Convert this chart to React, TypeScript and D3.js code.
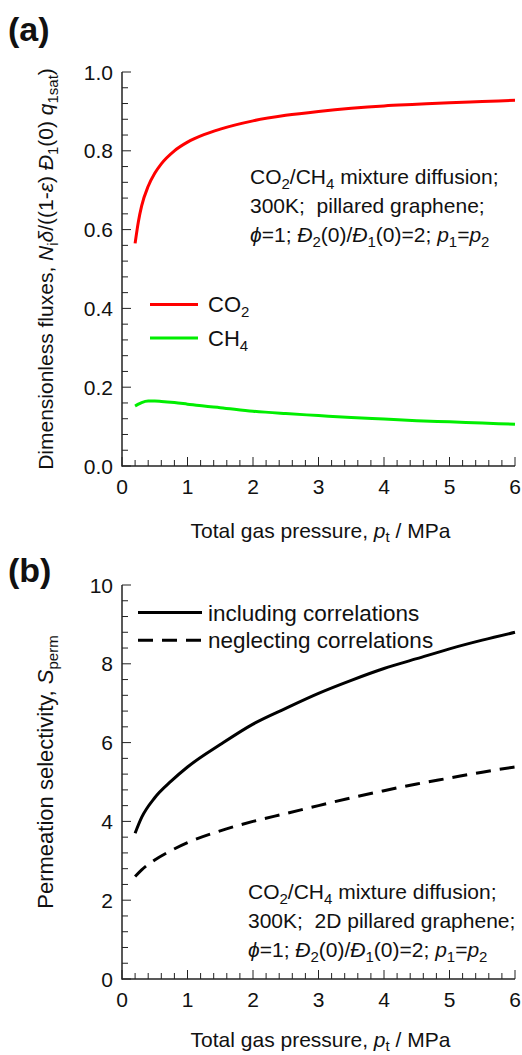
import React from "react";
import * as d3 from "d3";

// ---------- data ----------
const pressureA = [0.2, 0.25, 0.3, 0.4, 0.5, 0.6, 0.8, 1.0, 1.25, 1.5, 2.0, 2.5, 3.0, 3.5, 4.0, 4.5, 5.0, 5.5, 6.0];
const fluxCO2 = [0.565, 0.62, 0.66, 0.71, 0.743, 0.767, 0.8, 0.822, 0.841, 0.855, 0.876, 0.89, 0.9, 0.908, 0.914, 0.918, 0.922, 0.925, 0.928];
const fluxCH4 = [0.152, 0.157, 0.161, 0.165, 0.165, 0.164, 0.161, 0.157, 0.152, 0.148, 0.139, 0.133, 0.128, 0.123, 0.119, 0.115, 0.112, 0.109, 0.106];

const pressureB = [0.2, 0.3, 0.5, 0.75, 1.0, 1.5, 2.0, 2.5, 3.0, 3.5, 4.0, 4.5, 5.0, 5.5, 6.0];
const selIncl = [3.7, 4.1, 4.6, 5.02, 5.38, 5.95, 6.47, 6.87, 7.25, 7.58, 7.88, 8.13, 8.38, 8.6, 8.8];
const selNegl = [2.6, 2.77, 3.02, 3.26, 3.46, 3.76, 4.0, 4.2, 4.4, 4.6, 4.78, 4.95, 5.1, 5.25, 5.38];

const xTicks = [0, 1, 2, 3, 4, 5, 6];
const yTicksA = [0, 0.2, 0.4, 0.6, 0.8, 1.0];
const yTicksB = [0, 2, 4, 6, 8, 10];

const FONT = "'Liberation Sans', Arial, sans-serif";
const FS = 21;
const SUB = 15;

const W = 522, H = 1055;
const xLeft = 122, xRight = 515;

function Axes({ x, y, yTicks, yFmt, xMinor, yMinor }: any) {
  const [y0, y1] = y.range();
  const [x0, x1] = x.range();
  const axisColor = "#222";
  return (
    <g>
      <line x1={x0} x2={x0} y1={y0 + 0.75} y2={y1} stroke={axisColor} strokeWidth={1.5} />
      <line x1={x0} x2={x1} y1={y0} y2={y0} stroke={axisColor} strokeWidth={1.5} />
      {yMinor.map((v: number, i: number) => (
        <line key={"ym" + i} x1={x0} x2={x0 + 6} y1={y(v)} y2={y(v)} stroke={axisColor} strokeWidth={1} />
      ))}
      {yTicks.map((v: number, i: number) => (
        <g key={"y" + i}>
          <line x1={x0} x2={x0 + 9} y1={y(v)} y2={y(v)} stroke={axisColor} strokeWidth={1} />
          <text x={x0 - 9} y={y(v)} dy="0.36em" textAnchor="end" fontSize={FS} fontFamily={FONT} fill="#111">
            {yFmt(v)}
          </text>
        </g>
      ))}
      {xMinor.map((v: number, i: number) => (
        <line key={"xm" + i} x1={x(v)} x2={x(v)} y1={y0} y2={y0 - 6} stroke={axisColor} strokeWidth={1} />
      ))}
      {xTicks.map((v, i) => (
        <g key={"x" + i}>
          <line x1={x(v)} x2={x(v)} y1={y0} y2={y0 - 9} stroke={axisColor} strokeWidth={1} />
          <text x={x(v)} y={y0 + 28} textAnchor="middle" fontSize={FS} fontFamily={FONT} fill="#111">
            {v}
          </text>
        </g>
      ))}
    </g>
  );
}

function XTitle({ x, yPos }: any) {
  return (
    <text x={x} y={yPos} textAnchor="middle" fontSize={FS} fontFamily={FONT} fill="#111">
      Total gas pressure, <tspan fontStyle="italic">p</tspan>
      <tspan fontSize={SUB} dy={4}>t</tspan>
      <tspan dy={-4}> / MPa</tspan>
    </text>
  );
}

function Annotation({ x, y, twoD }: any) {
  const gap = 29;
  return (
    <g fontFamily={FONT} fontSize={FS} fill="#111">
      <text x={x} y={y}>
        CO<tspan fontSize={SUB} dy={5}>2</tspan>
        <tspan dy={-5}>/CH</tspan>
        <tspan fontSize={SUB} dy={5}>4</tspan>
        <tspan dy={-5}> mixture diffusion;</tspan>
      </text>
      <text x={x} y={y + gap}>
        {twoD ? "300K;\u00a0 2D pillared graphene;" : "300K;\u00a0 pillared graphene;"}
      </text>
      <text x={x} y={y + 2 * gap}>
        <tspan fontStyle="italic">ϕ</tspan>=1; <tspan fontStyle="italic">Đ</tspan>
        <tspan fontSize={SUB} dy={5}>2</tspan>
        <tspan dy={-5}>(0)/</tspan>
        <tspan fontStyle="italic">Đ</tspan>
        <tspan fontSize={SUB} dy={5}>1</tspan>
        <tspan dy={-5}>(0)=2; </tspan>
        <tspan fontStyle="italic">p</tspan>
        <tspan fontSize={SUB} dy={5}>1</tspan>
        <tspan dy={-5}>=</tspan>
        <tspan fontStyle="italic">p</tspan>
        <tspan fontSize={SUB} dy={5}>2</tspan>
      </text>
    </g>
  );
}

export default function App() {
  // panel a
  const xA = d3.scaleLinear().domain([0, 6]).range([xLeft, xRight]);
  const yA = d3.scaleLinear().domain([0, 1]).range([466, 72]);
  // panel b
  const xB = d3.scaleLinear().domain([0, 6]).range([xLeft, xRight]);
  const yB = d3.scaleLinear().domain([0, 10]).range([979, 585]);

  const xMinor = d3.range(0, 31).map((i) => i * 0.2).filter((v) => Math.abs(v - Math.round(v)) > 1e-6);
  const yMinorA = d3.range(0, 26).map((i) => i * 0.04).filter((v) => Math.abs(v * 5 - Math.round(v * 5)) > 1e-6);
  const yMinorB = d3.range(0, 26).map((i) => i * 0.4).filter((v) => Math.abs(v / 2 - Math.round(v / 2)) > 1e-6);

  const lineA = (ys: number[]) =>
    d3.line<number>().x((_, i) => xA(pressureA[i])).y((d) => yA(d)).curve(d3.curveMonotoneX)(ys) || "";
  const lineB = (ys: number[]) =>
    d3.line<number>().x((_, i) => xB(pressureB[i])).y((d) => yB(d)).curve(d3.curveMonotoneX)(ys) || "";

  return (
    <svg width={W} height={H} style={{ position: "absolute", left: 0, top: 0, background: "#fff" }}>
      <rect width={W} height={H} fill="#fff" />
      {/* Panel (a) */}
      <text x={8} y={41} fontSize={34} fontWeight="bold" fontFamily={FONT} fill="#111">(a)</text>
      <Axes x={xA} y={yA} yTicks={yTicksA} yFmt={(v: number) => v.toFixed(1)} xMinor={xMinor} yMinor={yMinorA} />
      <path d={lineA(fluxCO2)} fill="none" stroke="#ff0000" strokeWidth={3} />
      <path d={lineA(fluxCH4)} fill="none" stroke="#00ee00" strokeWidth={3} />
      <line x1={150} x2={198} y1={yA(0.41)} y2={yA(0.41)} stroke="#ff0000" strokeWidth={3} />
      <line x1={150} x2={198} y1={yA(0.325)} y2={yA(0.325)} stroke="#00ee00" strokeWidth={3} />
      <text x={208} y={yA(0.41)} dy="0.36em" fontSize={22} fontFamily={FONT} fill="#111">
        CO<tspan fontSize={SUB} dy={5}>2</tspan>
      </text>
      <text x={208} y={yA(0.325)} dy="0.36em" fontSize={22} fontFamily={FONT} fill="#111">
        CH<tspan fontSize={SUB} dy={5}>4</tspan>
      </text>
      <Annotation x={250} y={184} twoD={false} />
      <text transform={`translate(53, ${yA(0.5)}) rotate(-90)`} textAnchor="middle" fontSize={FS} fontFamily={FONT} fill="#111">
        Dimensionless fluxes, <tspan fontStyle="italic">N</tspan>
        <tspan fontSize={SUB} dy={5}>i</tspan>
        <tspan dy={-5} fontStyle="italic">δ</tspan>/((1-<tspan fontStyle="italic">ε</tspan>) <tspan fontStyle="italic">Đ</tspan>
        <tspan fontSize={SUB} dy={5}>1</tspan>
        <tspan dy={-5}>(0) </tspan>
        <tspan fontStyle="italic">q</tspan>
        <tspan fontSize={SUB} dy={5}>1sat</tspan>
        <tspan dy={-5}>)</tspan>
      </text>
      <XTitle x={(xLeft + xRight) / 2 + 2} yPos={538} />

      {/* Panel (b) */}
      <text x={8} y={582} fontSize={34} fontWeight="bold" fontFamily={FONT} fill="#111">(b)</text>
      <Axes x={xB} y={yB} yTicks={yTicksB} yFmt={(v: number) => String(v)} xMinor={xMinor} yMinor={yMinorB} />
      <path d={lineB(selIncl)} fill="none" stroke="#000" strokeWidth={3} />
      <path d={lineB(selNegl)} fill="none" stroke="#000" strokeWidth={3} strokeDasharray="15,9" />
      <line x1={138} x2={202} y1={yB(9.3)} y2={yB(9.3)} stroke="#000" strokeWidth={3} />
      <line x1={138} x2={202} y1={yB(8.6)} y2={yB(8.6)} stroke="#000" strokeWidth={3} strokeDasharray="15,9" />
      <text x={208} y={yB(9.3)} dy="0.36em" fontSize={22.5} fontFamily={FONT} fill="#111">including correlations</text>
      <text x={208} y={yB(8.6)} dy="0.36em" fontSize={22.5} fontFamily={FONT} fill="#111">neglecting correlations</text>
      <Annotation x={248} y={899} twoD={true} />
      <text transform={`translate(53, 772) rotate(-90)`} textAnchor="middle" fontSize={22} fontFamily={FONT} fill="#111">
        Permeation selectivity, <tspan fontStyle="italic">S</tspan>
        <tspan fontSize={SUB} dy={5}>perm</tspan>
      </text>
      <XTitle x={(xLeft + xRight) / 2 + 2} yPos={1047} />
    </svg>
  );
}
